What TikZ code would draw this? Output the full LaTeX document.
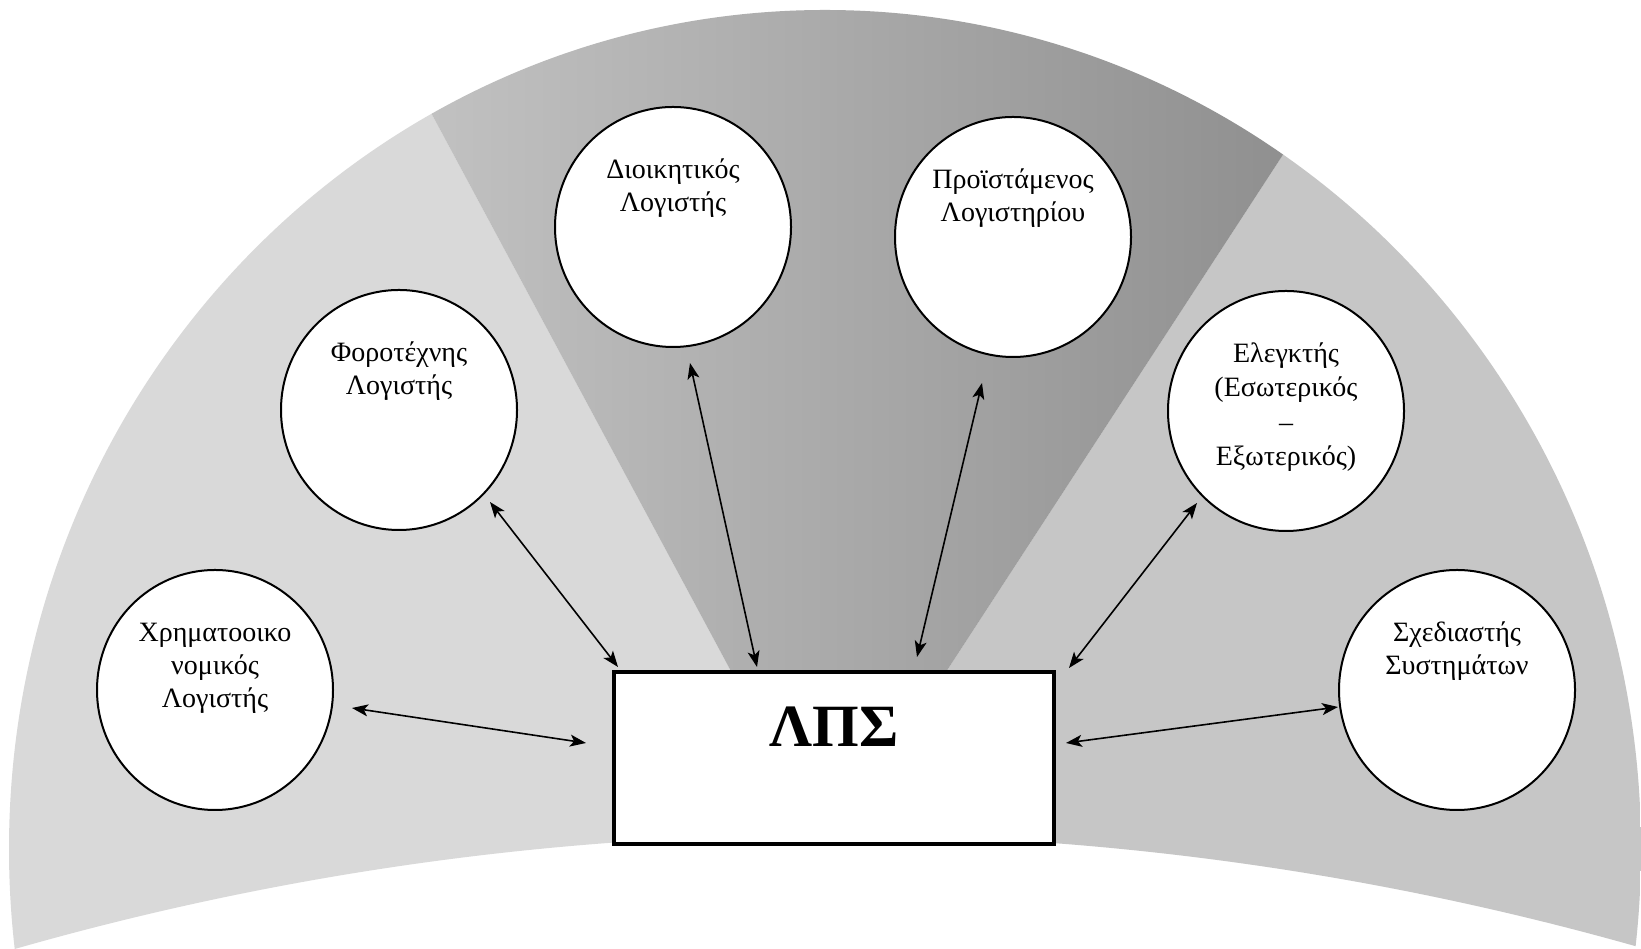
\documentclass[tikz,border=0pt]{standalone}
\usepackage{fontspec}
\setmainfont{Liberation Serif}
\usetikzlibrary{arrows.meta,calc,shapes.geometric}

\definecolor{segleft}{HTML}{D9D9D9}
\definecolor{segright}{HTML}{C6C6C6}
\definecolor{segmidA}{HTML}{C6C6C6}
\definecolor{segmidB}{HTML}{888888}

\begin{document}
\begin{tikzpicture}[x=1pt,y=1pt,
  role/.style={shape=ellipse, draw=black, line width=2pt, fill=white,
    minimum width=236pt, minimum height=240pt, inner sep=0pt, outer sep=0pt},
  lbl/.style={anchor=north, align=center, inner sep=0pt,
    font=\fontsize{28}{33}\selectfont},
  core/.style={shape=rectangle, draw=black, line width=4.5pt, fill=white,
    minimum width=440pt, minimum height=172pt, inner sep=0pt, outer sep=0pt},
  link/.style={{Stealth[length=16pt,width=12pt,inset=4pt]}-{Stealth[length=16pt,width=12pt,inset=4pt]},
    line width=1.6pt}]

% canvas
\fill[white] (0,0) rectangle (1641,949);
\useasboundingbox (0,0) rectangle (1641,949);

% fan-shaped background in three sectors
\begin{scope}
  \clip (825,100) ellipse [x radius=816, y radius=839];
  \clip (-20,1000) -- (-20,-20) -- (-10,-7.2)
        arc[start angle=106.47, end angle=73.93, radius=2963]
        -- (1660,-20) -- (1660,1000) -- cycle;
  \fill[segleft]  (828.4,96.4) -- (343,1000) -- (-50,1000) -- (-50,-50) -- (828.4,-50) -- cycle;
  \fill[segright] (828.4,96.4) -- (1417,1000) -- (1700,1000) -- (1700,-50) -- (828.4,-50) -- cycle;
  \shade[left color=segmidA, right color=segmidB] (828.4,96.4) -- (343,1000) -- (1417,1000) -- cycle;
\end{scope}

% central system
\node[core] (box) at (834,191) {};
\node[anchor=base, inner sep=0pt, font=\fontsize{60}{60}\selectfont\bfseries] (title) at (834,202) {ΛΠΣ};

% roles
\node[role] (c1) at (215,259) {};
\node[role] (c2) at (399,539) {};
\node[role] (c3) at (673,722) {};
\node[role] (c4) at (1013,712) {};
\node[role] (c5) at (1286,538) {};
\node[role] (c6) at (1457,259) {};

\node[lbl] (t1) at ($(c1)+(0,72)$) {\strut Χρηματοοικο\\\strut νομικός\\\strut Λογιστής};
\node[lbl] (t2) at ($(c2)+(0,72)$) {\strut Φοροτέχνης\\\strut Λογιστής};
\node[lbl] (t3) at ($(c3)+(0,72)$) {\strut Διοικητικός\\\strut Λογιστής};
\node[lbl] (t4) at ($(c4)+(0,72)$) {\strut Προϊστάμενος\\\strut Λογιστηρίου};
\node[lbl, font=\fontsize{28}{34.5}\selectfont] (t5) at ($(c5)+(0,73)$) {\strut Ελεγκτής\\\strut (Εσωτερικός\\\strut –\\\strut Εξωτερικός)};
\node[lbl] (t6) at ($(c6)+(0,72)$) {\strut Σχεδιαστής\\\strut Συστημάτων};

% two-way links
\draw[link] ($(c1)+(137,-18)$)  -- ($(box)+(-248,15)$);
\draw[link] ($(c2)+(91,-92)$)   -- ($(box)+(-216,91)$);
\draw[link] ($(c3)+(17,-136)$)  -- ($(box)+(-77,91)$);
\draw[link] ($(c4)+(-31,-146)$) -- ($(box)+(83,101)$);
\draw[link] ($(c5)+(-89,-92)$)  -- ($(box)+(235,90)$);
\draw[link] ($(c6)+(-119,-17)$) -- ($(box)+(232,15)$);
\end{tikzpicture}
\end{document}
